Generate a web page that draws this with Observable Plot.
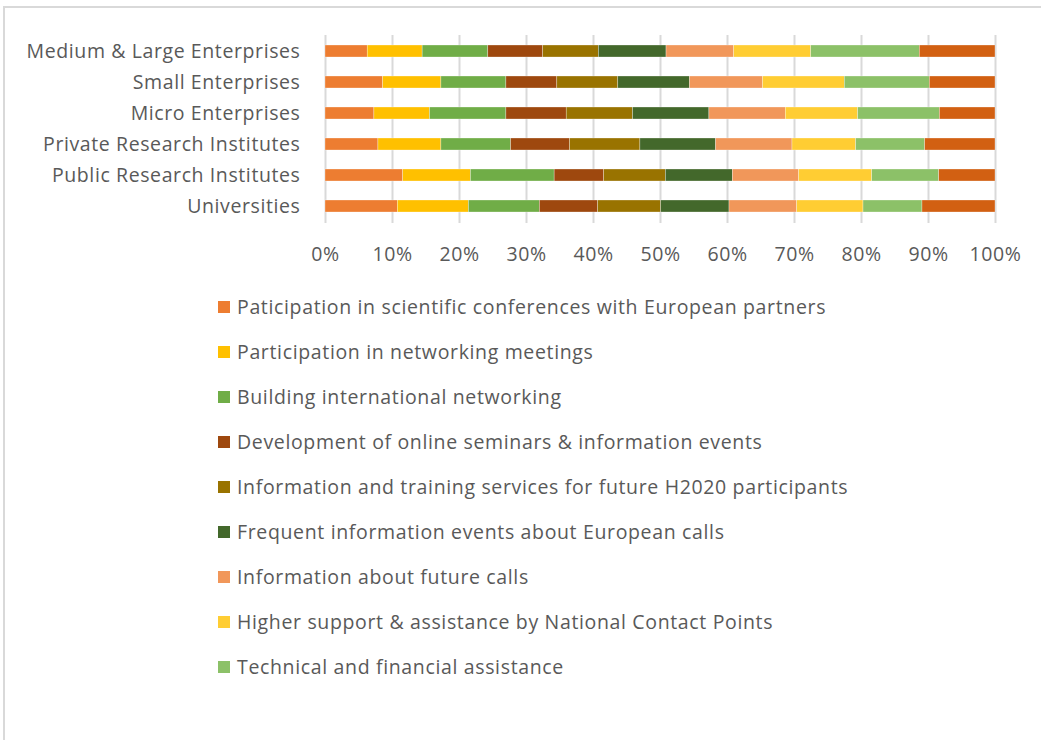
<!DOCTYPE html>
<html>
<head>
<meta charset="utf-8">
<script src="https://cdn.jsdelivr.net/npm/d3@7"></script>
<script src="https://cdn.jsdelivr.net/npm/@observablehq/plot@0.6"></script>
<style>
  html, body { margin: 0; padding: 0; background: #fff; }
  body { width: 1041px; height: 740px; overflow: hidden; position: relative; font-family: "Open Sans", sans-serif; }
  #frame { position: absolute; left: 3px; top: 6px; width: 1100px; height: 800px; border-left: 2px solid #d9d9d9; border-top: 2px solid #d9d9d9; box-sizing: border-box; }
  #chart { position: absolute; left: 0; top: 0; }
  #chart svg text { letter-spacing: 0.6px; }
  #legend { position: absolute; left: 218px; top: 284px; }
  .item { display: flex; align-items: center; height: 45px; font-size: 19.5px; letter-spacing: 0.65px; color: #595959; line-height: 1; }
  .sw { width: 12px; height: 12px; margin-right: 7px; flex: none; }
</style>
</head>
<body>
<div id="frame"></div>
<div id="chart"></div>
<div id="legend"></div>
<script>
const categories = [
  "Medium & Large Enterprises",
  "Small Enterprises",
  "Micro Enterprises",
  "Private Research Institutes",
  "Public Research Institutes",
  "Universities"
];
const series = [
  "Paticipation in scientific conferences with European partners",
  "Participation in networking meetings",
  "Building international networking",
  "Development of online seminars & information events",
  "Information and training services for future H2020 participants",
  "Frequent information events about European calls",
  "Information about future calls",
  "Higher support & assistance by National Contact Points",
  "Technical and financial assistance",
  "Other measures"
];
const colors = ["#ED7D31","#FFC000","#70AD47","#9E480E","#997300","#43682B","#F1975A","#FFCD33","#8CC168","#D26012"];
// values (% share) per category, in series order
const mediumLarge   = [6.3, 8.2, 9.8, 8.2, 8.3, 10.1, 10.1, 11.5, 16.2, 11.3];
const small         = [8.6, 8.7, 9.7, 7.6, 9.1, 10.7, 10.9, 12.2, 12.7, 9.8];
const micro         = [7.3, 8.3, 11.4, 9.0, 9.9, 11.4, 11.4, 10.8, 12.2, 8.3];
const privateRes    = [7.9, 9.4, 10.4, 8.8, 10.5, 11.3, 11.4, 9.5, 10.3, 10.5];
const publicRes     = [11.6, 10.1, 12.5, 7.4, 9.2, 10.0, 9.9, 10.9, 10.0, 8.4];
const universities  = [10.8, 10.6, 10.6, 8.7, 9.4, 10.2, 10.1, 9.9, 8.8, 10.9];
const xTicks = [0, 0.1, 0.2, 0.3, 0.4, 0.5, 0.6, 0.7, 0.8, 0.9, 1];
const legendCount = 9;

const rows = [mediumLarge, small, micro, privateRes, publicRes, universities];
const table = [];
rows.forEach((vals, i) => vals.forEach((v, j) => table.push({category: categories[i], series: series[j], value: v})));

const chart = Plot.plot({
  width: 1041,
  height: 280,
  marginLeft: 325,
  marginRight: 46,
  marginTop: 35,
  marginBottom: 57,
  style: {fontFamily: "Open Sans, sans-serif", fontSize: "19.5px", color: "#595959", background: "transparent"},
  x: {domain: [0, 1], ticks: xTicks, tickFormat: d3.format(".0%"), label: null},
  y: {domain: categories, paddingInner: 0.6, paddingOuter: 0.3, label: null},
  color: {domain: series, range: colors},
  marks: [
    Plot.gridX(xTicks, {stroke: "#d9d9d9", strokeOpacity: 1, strokeWidth: 2}),
    Plot.barX(table, Plot.stackX({
      x: "value", y: "category", fill: "series", order: series, offset: "normalize",
      stroke: "white", strokeWidth: 0.5, strokeOpacity: 0.6
    })),
    Plot.axisX(xTicks, {tickSize: 0, tickPadding: 24, tickFormat: d3.format(".0%"), fill: "#595959", fontSize: 19.5, label: null}),
    Plot.axisY({tickSize: 0, tickPadding: 25, fill: "#595959", fontSize: 19.5, label: null})
  ]
});
document.getElementById("chart").appendChild(chart);

const legend = document.getElementById("legend");
series.slice(0, legendCount).forEach((s, i) => {
  const d = document.createElement("div");
  d.className = "item";
  const sw = document.createElement("span");
  sw.className = "sw";
  sw.style.background = colors[i];
  const t = document.createElement("span");
  t.textContent = s;
  d.appendChild(sw); d.appendChild(t);
  legend.appendChild(d);
});
</script>
</body>
</html>
